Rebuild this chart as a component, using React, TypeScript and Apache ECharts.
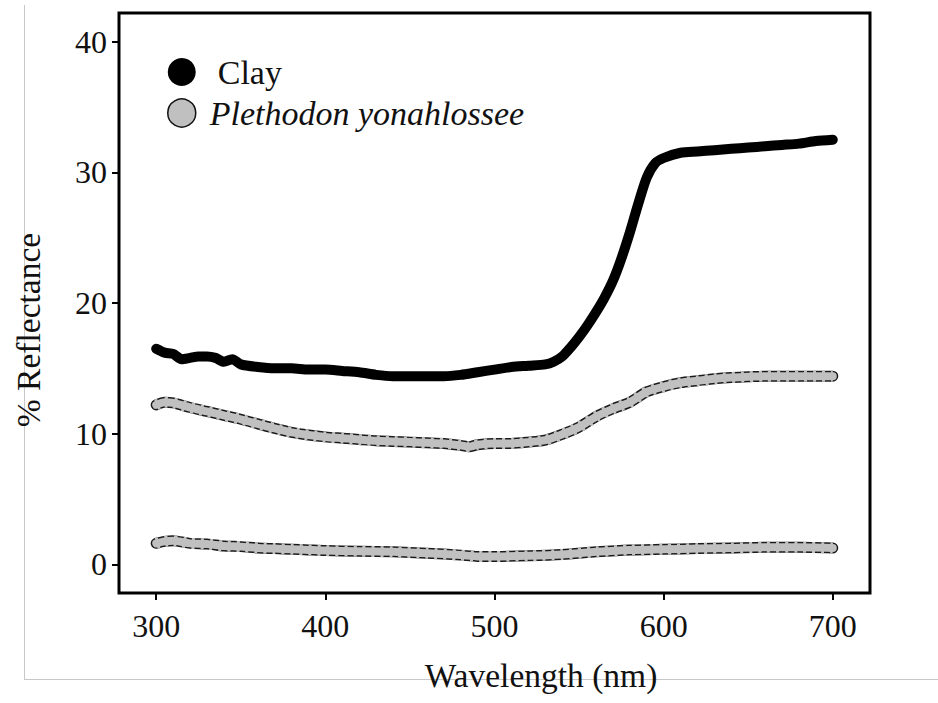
import React, { useEffect, useRef } from "react";
import * as echarts from "echarts";

// Wavelength (nm) and % reflectance
const clayNm = [300, 305, 310, 315, 320, 325, 330, 335, 340, 345, 350, 360, 370, 380, 390, 400, 410, 420, 430, 440, 450, 460, 470, 480, 490, 500, 510, 520, 530, 535, 540, 545, 550, 555, 560, 565, 570, 575, 580, 585, 590, 595, 600, 610, 620, 630, 640, 650, 660, 670, 680, 690, 700];
const clayPct = [16.5, 16.2, 16.1, 15.7, 15.8, 15.9, 15.9, 15.8, 15.5, 15.7, 15.3, 15.1, 15.0, 15.0, 14.9, 14.9, 14.8, 14.7, 14.5, 14.4, 14.4, 14.4, 14.4, 14.5, 14.7, 14.9, 15.1, 15.2, 15.3, 15.5, 15.9, 16.6, 17.4, 18.3, 19.3, 20.4, 21.7, 23.4, 25.4, 27.6, 29.6, 30.7, 31.1, 31.5, 31.6, 31.7, 31.8, 31.9, 32.0, 32.1, 32.2, 32.4, 32.5];

const plethUpperNm = [300, 305, 310, 320, 330, 340, 350, 360, 370, 380, 390, 400, 410, 420, 430, 440, 450, 460, 470, 480, 485, 490, 500, 510, 520, 530, 540, 550, 560, 570, 580, 590, 600, 610, 620, 630, 640, 650, 660, 670, 680, 690, 700];
const plethUpperPct = [12.2, 12.4, 12.35, 12.0, 11.7, 11.4, 11.1, 10.75, 10.4, 10.1, 9.9, 9.75, 9.65, 9.55, 9.45, 9.4, 9.35, 9.3, 9.25, 9.1, 9.0, 9.15, 9.25, 9.25, 9.35, 9.5, 9.95, 10.5, 11.3, 11.9, 12.4, 13.2, 13.6, 13.9, 14.05, 14.2, 14.3, 14.35, 14.4, 14.4, 14.4, 14.4, 14.4];

const plethLowerNm = [300, 305, 310, 320, 330, 340, 350, 360, 370, 380, 390, 400, 420, 440, 460, 480, 490, 500, 520, 540, 560, 580, 600, 620, 640, 660, 680, 700];
const plethLowerPct = [1.6, 1.75, 1.8, 1.6, 1.55, 1.4, 1.35, 1.25, 1.2, 1.15, 1.1, 1.05, 1.0, 0.95, 0.85, 0.7, 0.6, 0.6, 0.65, 0.75, 0.95, 1.1, 1.15, 1.2, 1.25, 1.3, 1.3, 1.25];

const xTicks = [300, 400, 500, 600, 700];
const yTicks = [0, 10, 20, 30, 40];

const SERIF = "'Liberation Serif', 'Times New Roman', serif";
const PLETH = "Plethodon yonahlossee";
const GRAY = "#c0c0c0";

const zip = (xs: number[], ys: number[]) => xs.map((x, i) => [x, ys[i]]);

function grayLine(data: number[][]) {
  const base = { type: "line", name: PLETH, data, showSymbol: false, symbol: "none", smooth: 0.25, silent: true };
  return [
    { ...base, z: 3, lineStyle: { color: "#1a1a1a", width: 11, cap: "round", join: "round" } },
    { ...base, z: 4, lineStyle: { color: GRAY, width: 11, cap: "butt", join: "round", type: [3, 6] } },
    { ...base, z: 5, lineStyle: { color: GRAY, width: 8, cap: "round", join: "round" } },
  ];
}

export default function App() {
  const ref = useRef<HTMLDivElement>(null);
  useEffect(() => {
    if (!ref.current) return;
    const chart = echarts.init(ref.current, null, { renderer: "svg" });
    chart.setOption({
      animation: false,
      backgroundColor: "#ffffff",
      textStyle: { fontFamily: SERIF },
      grid: { left: 119, top: 13, right: 68, bottom: 110, show: true, borderColor: "#000", borderWidth: 3, backgroundColor: "transparent" },
      legend: {
        left: 162,
        top: 50,
        orient: "vertical",
        itemWidth: 28,
        itemHeight: 28,
        itemGap: 7,
        selectedMode: false,
        data: [
          { name: "Clay", icon: "circle", itemStyle: { color: "#000", borderWidth: 0 } },
          { name: PLETH, icon: "circle", itemStyle: { color: GRAY, borderColor: "#111", borderWidth: 1.5 } },
        ],
        formatter: (name: string) => (name === "Clay" ? "{c|Clay}" : "{p|" + name + "}"),
        textStyle: {
          color: "#111",
          fontFamily: SERIF,
          fontSize: 34,
          rich: {
            c: { fontFamily: SERIF, fontSize: 34, color: "#111", padding: [0, 0, 0, 17] },
            p: { fontFamily: SERIF, fontSize: 34, color: "#111", fontStyle: "italic", padding: [0, 0, 0, 9] },
          },
        },
      },
      xAxis: {
        type: "value",
        min: 278,
        max: 722,
        name: "Wavelength (nm)",
        nameLocation: "middle",
        nameGap: 65,
        nameTextStyle: { fontFamily: SERIF, fontSize: 33.5, color: "#111", padding: [0, 0, 0, 93] },
        axisLine: { show: false, onZero: false },
        splitLine: { show: false },
        axisTick: { show: true, inside: false, length: 7, customValues: xTicks, lineStyle: { color: "#000", width: 2 } },
        axisLabel: { customValues: xTicks, fontFamily: SERIF, fontSize: 32, color: "#111", margin: 17 },
      },
      yAxis: {
        type: "value",
        min: -2.2,
        max: 42.2,
        name: "% Reflectance",
        nameLocation: "middle",
        nameGap: 74,
        nameRotate: 90,
        nameTextStyle: { fontFamily: SERIF, fontSize: 33.5, color: "#111", padding: [0, 54, 0, 0] },
        axisLine: { show: false, onZero: false },
        splitLine: { show: false },
        axisTick: { show: true, inside: false, length: 7, customValues: yTicks, lineStyle: { color: "#000", width: 2 } },
        axisLabel: { customValues: yTicks, fontFamily: SERIF, fontSize: 32, color: "#111", margin: 12 },
      },
      graphic: [
        { type: "line", z: -10, shape: { x1: 24.5, y1: 5, x2: 24.5, y2: 679.5 }, style: { stroke: "#c8c8c8", lineWidth: 1 } },
        { type: "line", z: -10, shape: { x1: 24, y1: 679.5, x2: 938, y2: 679.5 }, style: { stroke: "#c8c8c8", lineWidth: 1 } },
      ],
      series: [
        {
          type: "line",
          name: "Clay",
          data: zip(clayNm, clayPct),
          showSymbol: false,
          symbol: "none",
          smooth: 0.25,
          z: 6,
          lineStyle: { color: "#000", width: 10, cap: "round", join: "round" },
        },
        ...grayLine(zip(plethUpperNm, plethUpperPct)),
        ...grayLine(zip(plethLowerNm, plethLowerPct)),
      ],
    });
    return () => chart.dispose();
  }, []);
  return <div ref={ref} style={{ position: "fixed", left: 0, top: 0, width: 938, height: 703 }} />;
}
